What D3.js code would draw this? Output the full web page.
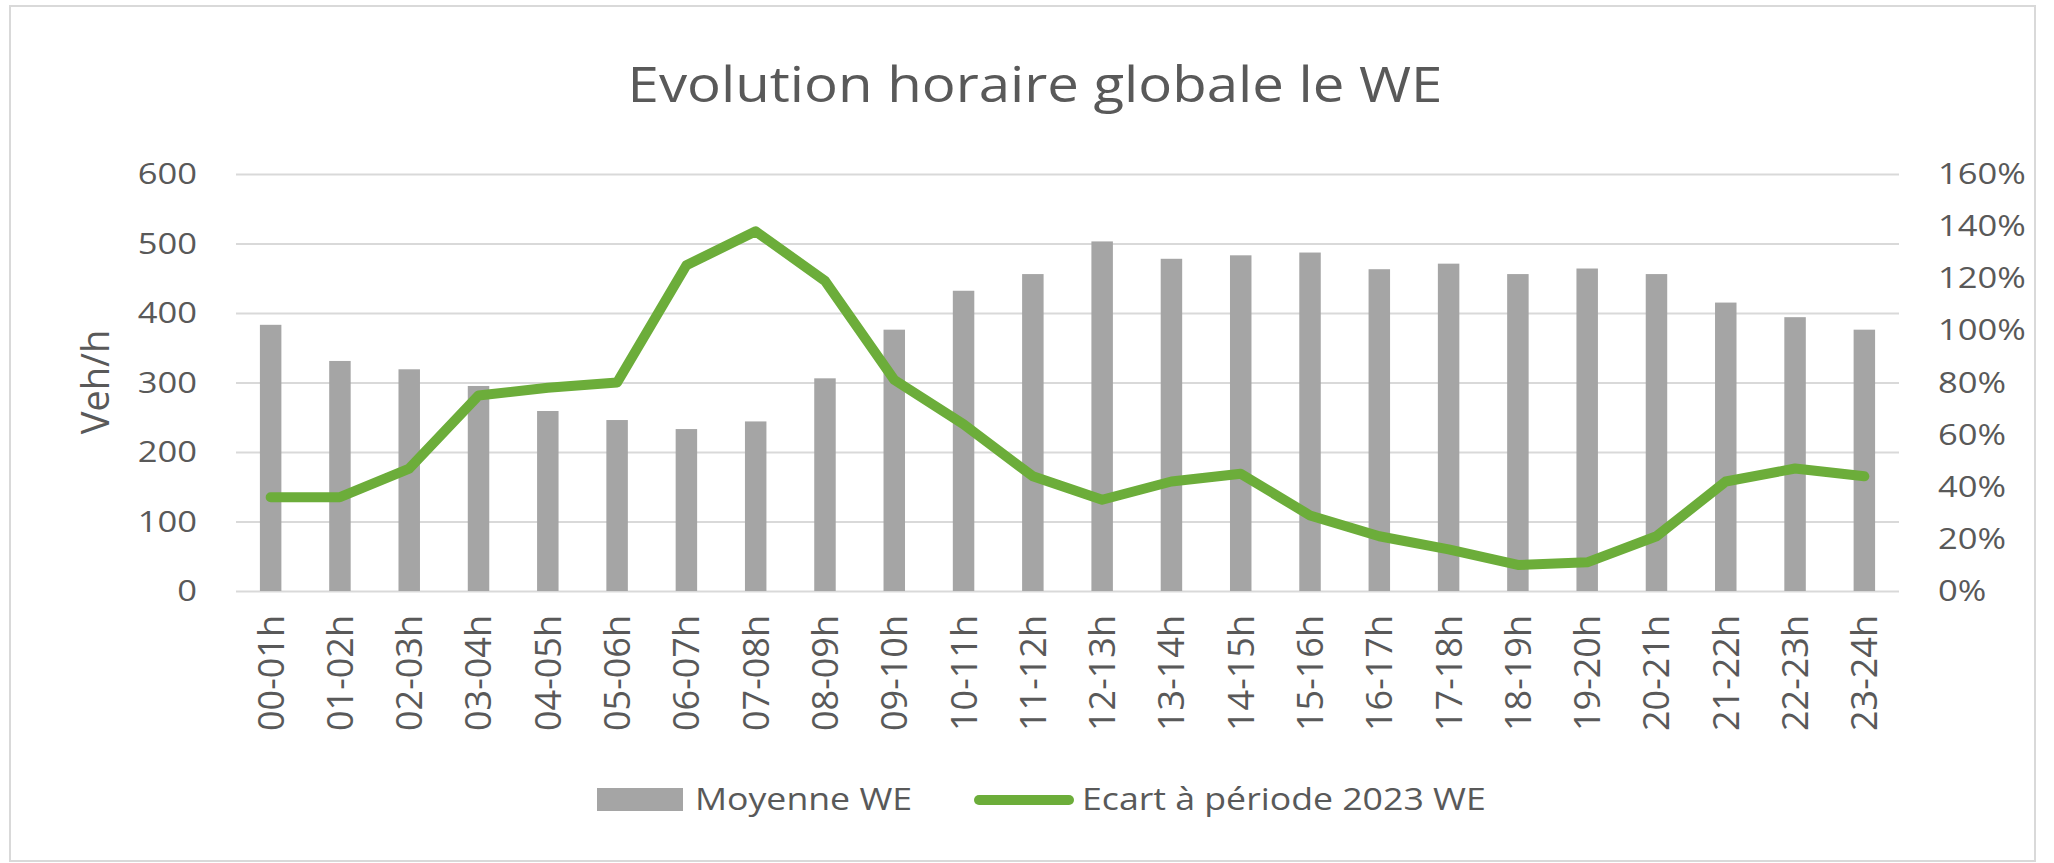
<!DOCTYPE html>
<html>
<head>
<meta charset="utf-8">
<script src="https://cdn.jsdelivr.net/npm/d3@7"></script>
<style>
  body { margin: 0; background: #fff; }
  text { font-family: "Open Sans", sans-serif; fill: #595959; }
</style>
</head>
<body>
<div id="chart"></div>
<script>
// values
var hours = ["00-01h", "01-02h", "02-03h", "03-04h", "04-05h", "05-06h",
             "06-07h", "07-08h", "08-09h", "09-10h", "10-11h", "11-12h",
             "12-13h", "13-14h", "14-15h", "15-16h", "16-17h", "17-18h",
             "18-19h", "19-20h", "20-21h", "21-22h", "22-23h", "23-24h"];
var moyenneWE = [383, 331, 319, 295, 259, 246, 233, 244, 306, 376, 432, 456,
                 503, 478, 483, 487, 463, 471, 456, 464, 456, 415, 394, 376];
var ecart2023 = [36, 36, 47, 75, 78, 80, 125, 138, 119, 81, 64, 44,
                 35, 42, 45, 29, 21, 16, 10, 11, 21, 42, 47, 44];
var volTicks = [0, 100, 200, 300, 400, 500, 600];
var pctTicks = [0, 20, 40, 60, 80, 100, 120, 140, 160];

var W = 2054, H = 863;
var margin = { top: 174, right: 155, bottom: 272, left: 236 };
var width = W - margin.left - margin.right;
var height = H - margin.top - margin.bottom;
var SX = 1.15; // text in the source is a bit wider than Open Sans

var gray = "#a5a5a5", green = "#6cad3a", grid = "#d9d9d9";

var svg = d3.select("#chart").append("svg")
    .attr("width", W)
    .attr("height", H);

function stretch(sel) {
  sel.each(function () {
    var len = this.getComputedTextLength();
    d3.select(this).attr("textLength", len * SX).attr("lengthAdjust", "spacingAndGlyphs");
  });
}

// outer border
svg.append("rect")
    .attr("x", 10).attr("y", 6)
    .attr("width", 2025).attr("height", 855)
    .attr("fill", "none")
    .attr("stroke", grid)
    .attr("stroke-width", 2);

var g = svg.append("g")
    .attr("transform", "translate(" + margin.left + "," + margin.top + ")");

var x = d3.scaleBand()
    .domain(hours)
    .range([0, width])
    .paddingInner(0.69)
    .paddingOuter(0.345);

var y = d3.scaleLinear().domain([0, 600]).range([height, 0]);
var y2 = d3.scaleLinear().domain([0, 160]).range([height, 0]);

// gridlines
g.append("g")
    .call(d3.axisLeft(y).tickValues(volTicks).tickSize(-width).tickFormat(""))
    .call(function (a) {
      a.select(".domain").remove();
      a.selectAll("line").attr("stroke", grid).attr("stroke-width", 2);
    });

// left axis labels
g.append("g")
    .call(d3.axisLeft(y).tickValues(volTicks).tickSize(0).tickPadding(39))
    .call(function (a) {
      a.select(".domain").remove();
      a.selectAll("text").attr("font-size", 30).style("fill", "#595959")
        .attr("font-family", "Open Sans").call(stretch);
    });

// right axis labels
g.append("g")
    .attr("transform", "translate(" + width + ",0)")
    .call(d3.axisRight(y2).tickValues(pctTicks).tickSize(0).tickPadding(39)
      .tickFormat(function (d) { return d + "%"; }))
    .call(function (a) {
      a.select(".domain").remove();
      a.selectAll("text").attr("font-size", 30).style("fill", "#595959")
        .attr("font-family", "Open Sans").call(stretch);
    });

// bars
g.selectAll(".bar")
    .data(moyenneWE)
    .enter().append("rect")
    .attr("class", "bar")
    .attr("x", function (d, i) { return x(hours[i]); })
    .attr("y", function (d) { return y(d); })
    .attr("width", x.bandwidth())
    .attr("height", function (d) { return height - y(d); })
    .attr("fill", gray);

// x labels
g.append("g")
    .attr("transform", "translate(0," + height + ")")
    .call(d3.axisBottom(x).tickSize(0).tickPadding(0))
    .call(function (a) {
      a.select(".domain").remove();
      a.selectAll("text")
        .attr("font-size", 36)
        .attr("font-family", "Open Sans")
        .style("fill", "#595959")
        .attr("text-anchor", "end")
        .attr("transform", "translate(0,24) rotate(-90)")
        .attr("x", 0).attr("y", 0)
        .attr("dy", "0.36em");
    });

// line
var line = d3.line()
    .x(function (d, i) { return x(hours[i]) + x.bandwidth() / 2; })
    .y(function (d) { return y2(d); });

g.append("path")
    .datum(ecart2023)
    .attr("d", line)
    .attr("fill", "none")
    .attr("stroke", green)
    .attr("stroke-width", 10)
    .attr("stroke-linejoin", "round")
    .attr("stroke-linecap", "round");

// y title
svg.append("text")
    .attr("transform", "translate(96,382) rotate(-90)")
    .attr("text-anchor", "middle")
    .attr("dy", "0.35em")
    .attr("font-size", 38)
    .text("Veh/h");

// title
svg.append("text")
    .attr("x", 1035).attr("y", 102)
    .attr("text-anchor", "middle")
    .attr("font-size", 49)
    .text("Evolution horaire globale le WE")
    .call(stretch);

// legend
var leg = svg.append("g");
leg.append("rect")
    .attr("x", 597).attr("y", 788)
    .attr("width", 86).attr("height", 23)
    .attr("fill", gray);
leg.append("text")
    .attr("x", 695).attr("y", 810)
    .attr("font-size", 31)
    .text("Moyenne WE")
    .call(stretch);
leg.append("line")
    .attr("x1", 979).attr("x2", 1069)
    .attr("y1", 800).attr("y2", 800)
    .attr("stroke", green)
    .attr("stroke-width", 10)
    .attr("stroke-linecap", "round");
leg.append("text")
    .attr("x", 1082).attr("y", 810)
    .attr("font-size", 31)
    .text("Ecart à période 2023 WE")
    .call(stretch);
</script>
</body>
</html>
